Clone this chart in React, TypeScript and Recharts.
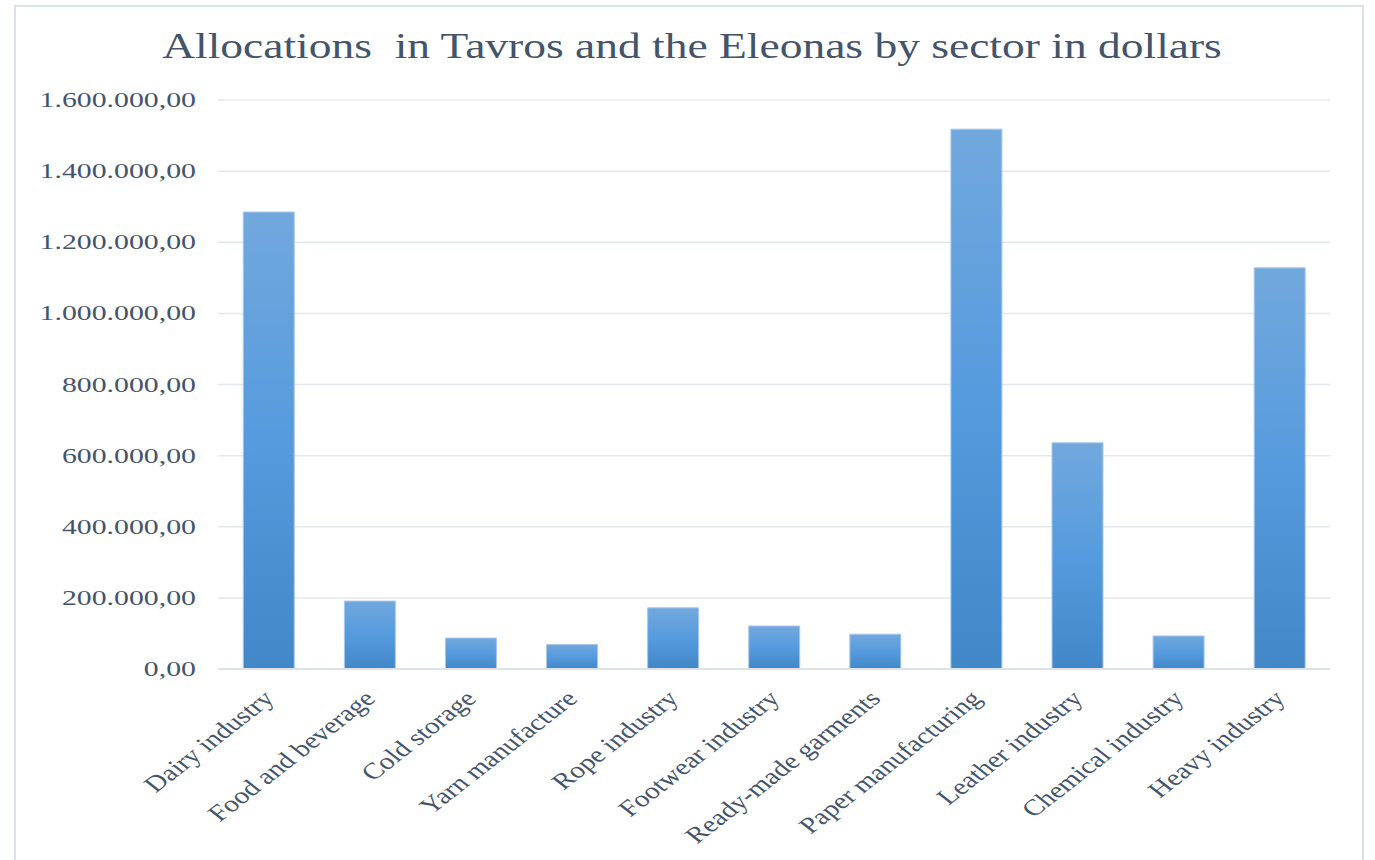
import React from "react";
import { BarChart, Bar, XAxis, YAxis, CartesianGrid } from "recharts";

const categories = [
  "Dairy industry",
  "Food and beverage",
  "Cold storage",
  "Yarn manufacture",
  "Rope industry",
  "Footwear industry",
  "Ready-made garments",
  "Paper manufacturing",
  "Leather industry",
  "Chemical industry",
  "Heavy industry",
];
const allocations = [1285000, 191000, 87000, 69000, 172000, 121000, 98000, 1518000, 636000, 93000, 1128000];
const yTicks = [0, 200000, 400000, 600000, 800000, 1000000, 1200000, 1400000, 1600000];
const title = "Allocations  in Tavros and the Eleonas by sector in dollars";

const data = categories.map((c, i) => ({ name: c, value: allocations[i] }));

const TEXT = "#44546a";
const FONT = "'Liberation Serif', 'Times New Roman', serif";

const fmt = (v: number) => {
  const s = Math.round(v).toString().replace(/\B(?=(\d{3})+(?!\d))/g, ".");
  return s + ",00";
};

const YTick = (props: any) => {
  const { x, y, payload } = props;
  return (
    <text
      transform={`translate(${x},${y}) scale(1.42,1)`}
      x={0}
      y={0}
      dy={7}
      textAnchor="end"
      fill={TEXT}
      fontSize={21}
      fontFamily={FONT}
    >
      {fmt(payload.value)}
    </text>
  );
};

const XTick = (props: any) => {
  const { x, y, payload } = props;
  return (
    <text
      transform={`translate(${x + 7},${y + 23}) scale(1.28,1) rotate(-45)`}
      x={0}
      y={0}
      textAnchor="end"
      fill={TEXT}
      fontSize={22.8}
      fontFamily={FONT}
    >
      {payload.value}
    </text>
  );
};

export default function App() {
  return (
    <div style={{ position: "fixed", left: 0, top: 0, width: 1375, height: 860, background: "#fff", overflow: "hidden" }}>
      <div
        style={{
          position: "absolute",
          left: 14,
          top: 5,
          width: 1350,
          height: 900,
          border: "2px solid #dde2ea",
          boxSizing: "border-box",
        }}
      />
      <svg width={1375} height={100} style={{ position: "absolute", left: 0, top: 0 }}>
        <text
          transform={`translate(692,58) scale(1.3,1)`}
          x={0}
          y={0}
          textAnchor="middle"
          fill={TEXT}
          fontSize={35}
          fontFamily={FONT}
          style={{ whiteSpace: "pre" }}
        >
          {title}
        </text>
      </svg>
      <div style={{ position: "absolute", left: 0, top: 0 }}>
        <BarChart
          width={1375}
          height={860}
          data={data}
          margin={{ top: 100, right: 45, bottom: 0, left: 0 }}
          barCategoryGap="25%"
        >
          <defs>
            <linearGradient id="barGrad" x1="0" y1="0" x2="0" y2="1">
              <stop offset="0%" stopColor="#72a8dd" />
              <stop offset="50%" stopColor="#559bdd" />
              <stop offset="100%" stopColor="#4287c8" />
            </linearGradient>
          </defs>
          <CartesianGrid vertical={false} stroke="#e3e7ee" strokeWidth={1.5} />
          <XAxis
            dataKey="name"
            interval={0}
            height={191}
            tickLine={false}
            axisLine={{ stroke: "#dde2ea", strokeWidth: 2 }}
            tick={<XTick />}
          />
          <YAxis
            width={218}
            domain={[0, 1600000]}
            ticks={yTicks}
            tickLine={false}
            axisLine={false}
            tickSize={0}
            tickMargin={22}
            tick={<YTick />}
          />
          <Bar dataKey="value" fill="url(#barGrad)" stroke="#a8c8ea" strokeWidth={1} isAnimationActive={false} />
        </BarChart>
      </div>
    </div>
  );
}
